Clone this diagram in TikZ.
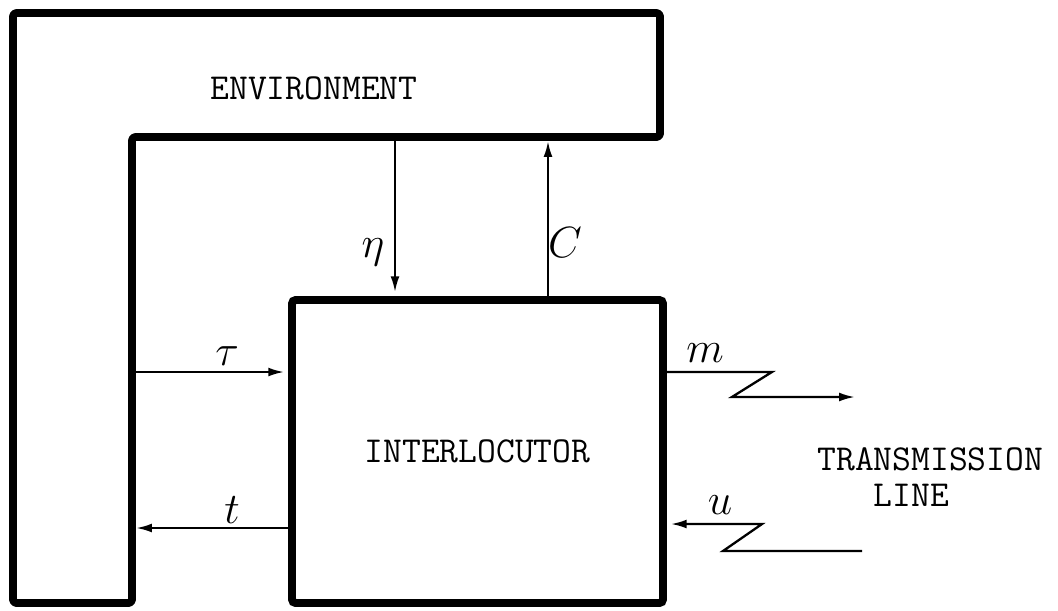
\documentclass[tikz,border=0pt]{standalone}
\usepackage{fontspec}
\usepackage{tikz}
\usetikzlibrary{arrows.meta, positioning, calc}

\begin{document}
\begin{tikzpicture}[
  x=0.02cm, y=-0.02cm,
  wall/.style={line width=4.5pt, line join=round, rounded corners=2pt},
  block/.style={rectangle, draw, line width=4.5pt, rounded corners=2pt,
                minimum width=7.42cm, minimum height=6.06cm, inner sep=0pt,
                font=\ttfamily\addfontfeatures{FakeBold=1.5}\fontsize{20.8}{20.5}\selectfont},
  caption/.style={inner sep=0pt, align=left,
                  font=\ttfamily\addfontfeatures{FakeBold=1.5}\fontsize{20.8}{20.5}\selectfont},
  arrow/.style={-{Latex[length=9pt, width=5pt]}, line width=1.3pt},
  lbl/.style={inner sep=0pt, font=\fontsize{23}{27}\selectfont},
]
  \useasboundingbox (0,0) rectangle (1058,610);
  % environment
  \draw[wall] (13,13) -- (660,13) -- (660,137) -- (132,137) -- (132,603) -- (13,603) -- cycle;
  \node[caption] (env) at (314,88) {ENVIRONMENT};
  \coordinate (envEta) at (395,137);
  \coordinate (envC) at (548,141);
  \coordinate (envTau) at (132,372);
  \coordinate (envT) at (136,528);
  % interlocutor
  \node[block] (inter) at (477.5,451.5) {INTERLOCUTOR};
  % transmission line ends
  \coordinate (lineOut) at (855,397);
  \coordinate (lineIn) at (862,551);
  \node[caption, anchor=north west] (trans) at (817,447) {TRANSMISSION\\\phantom{TRA}LINE};
  % connectors
  \draw[arrow, shorten >=2.2pt] (envEta) -- (envEta |- inter.north);
  \draw[arrow] (inter.north -| envC) -- (envC);
  \draw[arrow, shorten >=2.2pt] (envTau) -- (envTau -| inter.west);
  \draw[arrow] (inter.west |- envT) -- (envT);
  \draw[arrow] (inter.east |- envTau) -- ++(105,0) -- ++(-40,25) -- (lineOut);
  \draw[arrow, shorten >=2.2pt] (lineIn) -- ++(-139,0) -- ++(39,-27) -- ($(inter.east)+(0,72.5)$);
  % labels
  \node[lbl] (eta) at (373,252) {$\eta$};
  \node[lbl] (c) at (565,243) {$C$};
  \node[lbl] (tau) at (227,356) {$\tau$};
  \node[lbl] (t) at (232,510) {$t$};
  \node[lbl] (m) at (705,353) {$m$};
  \node[lbl] (u) at (720,505) {$u$};
\end{tikzpicture}
\end{document}
